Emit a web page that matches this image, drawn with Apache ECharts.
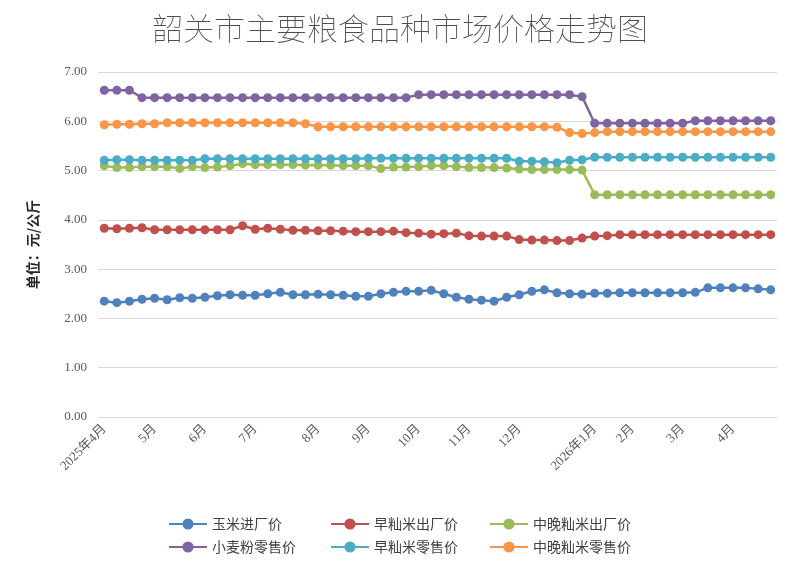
<!DOCTYPE html>
<html>
<head>
<meta charset="utf-8">
<script src="https://cdn.jsdelivr.net/npm/echarts@6/dist/echarts.min.js"></script>
<style>
    html, body { margin: 0; padding: 0; background: #fff; }
    #chart { width: 800px; height: 585px; }
</style>
</head>
<body>
<div id="chart"></div>
<script>
'use strict';

// weekly points, month label on the first week of each month
var weekLabels = [
    '2025年4月', '', '', '', '5月', '', '', '', '6月', '', '', '', '7月', '', '', '', '', '8月',
    '', '', '', '9月', '', '', '', '10月', '', '', '', '11月', '', '', '', '12月', '', '', '', '', '',
    '2026年1月', '', '', '2月', '', '', '', '3月', '', '', '', '4月', '', '', ''
];

var seriesNames = ['玉米进厂价', '早籼米出厂价', '中晚籼米出厂价', '小麦粉零售价', '早籼米零售价', '中晚籼米零售价'];

var cornPrice = [2.35, 2.32, 2.35, 2.39, 2.41, 2.38, 2.42, 2.41, 2.43, 2.46, 2.48, 2.47, 2.47, 2.50, 2.53, 2.48, 2.48, 2.49,
    2.48, 2.47, 2.45, 2.45, 2.50, 2.53, 2.55, 2.55, 2.57, 2.50, 2.43, 2.39, 2.37, 2.35, 2.43, 2.48, 2.55, 2.58,
    2.52, 2.50, 2.49, 2.51, 2.51, 2.52, 2.52, 2.52, 2.52, 2.52, 2.52, 2.53, 2.62, 2.62, 2.62, 2.62, 2.60, 2.58];

var earlyRiceMill = [3.83, 3.82, 3.83, 3.84, 3.80, 3.80, 3.80, 3.80, 3.80, 3.80, 3.80, 3.88, 3.81, 3.83, 3.81, 3.79, 3.79, 3.78,
    3.78, 3.77, 3.76, 3.76, 3.76, 3.77, 3.74, 3.73, 3.71, 3.72, 3.73, 3.68, 3.67, 3.67, 3.67, 3.60, 3.59, 3.59,
    3.58, 3.58, 3.63, 3.67, 3.68, 3.70, 3.70, 3.70, 3.70, 3.70, 3.70, 3.70, 3.70, 3.70, 3.70, 3.70, 3.70, 3.70];

var lateRiceMill = [5.10, 5.06, 5.06, 5.08, 5.08, 5.08, 5.04, 5.08, 5.06, 5.07, 5.10, 5.14, 5.12, 5.12, 5.12, 5.12, 5.11, 5.11,
    5.11, 5.10, 5.10, 5.10, 5.04, 5.07, 5.07, 5.08, 5.10, 5.10, 5.08, 5.06, 5.06, 5.06, 5.05, 5.03, 5.02, 5.02,
    5.02, 5.02, 5.01, 4.51, 4.51, 4.51, 4.51, 4.51, 4.51, 4.51, 4.51, 4.51, 4.51, 4.51, 4.51, 4.51, 4.51, 4.51];

var flourRetail = [6.63, 6.63, 6.63, 6.48, 6.48, 6.48, 6.48, 6.48, 6.48, 6.48, 6.48, 6.48, 6.48, 6.48, 6.48, 6.48, 6.48, 6.48,
    6.48, 6.48, 6.48, 6.48, 6.48, 6.48, 6.48, 6.54, 6.54, 6.54, 6.54, 6.54, 6.54, 6.54, 6.54, 6.54, 6.54, 6.54,
    6.54, 6.54, 6.50, 5.96, 5.96, 5.96, 5.96, 5.96, 5.96, 5.96, 5.96, 6.01, 6.01, 6.01, 6.01, 6.01, 6.01, 6.01];

var earlyRiceRetail = [5.21, 5.22, 5.22, 5.21, 5.21, 5.21, 5.21, 5.21, 5.24, 5.24, 5.24, 5.24, 5.24, 5.24, 5.24, 5.24, 5.24, 5.24,
    5.24, 5.24, 5.24, 5.25, 5.25, 5.25, 5.25, 5.25, 5.25, 5.25, 5.25, 5.25, 5.25, 5.25, 5.25, 5.19, 5.19, 5.18,
    5.16, 5.21, 5.22, 5.27, 5.27, 5.27, 5.27, 5.27, 5.27, 5.27, 5.27, 5.27, 5.27, 5.27, 5.27, 5.27, 5.27, 5.27];

var lateRiceRetail = [5.93, 5.94, 5.94, 5.95, 5.95, 5.97, 5.97, 5.97, 5.97, 5.97, 5.97, 5.97, 5.97, 5.97, 5.97, 5.97, 5.95, 5.89,
    5.89, 5.89, 5.89, 5.89, 5.89, 5.89, 5.89, 5.89, 5.89, 5.89, 5.89, 5.89, 5.89, 5.89, 5.89, 5.89, 5.89, 5.89,
    5.88, 5.77, 5.75, 5.77, 5.79, 5.79, 5.79, 5.79, 5.79, 5.79, 5.79, 5.79, 5.79, 5.79, 5.79, 5.79, 5.79, 5.79];

var yTicks = { min: 0, max: 7, interval: 1 };

var serifFont = '"Liberation Serif", "Noto Sans CJK SC", serif';
var cjkFont = '"Noto Sans CJK SC", "Liberation Serif", serif';

function floatchart() {
    var myChart = echarts.init(document.getElementById('chart'));

    var values = [cornPrice, earlyRiceMill, lateRiceMill, flourRetail, earlyRiceRetail, lateRiceRetail];

    // one legend per column so the two rows line up like the excel one
    var legendCol = function (names, left) {
        return {
            orient: 'vertical',
            left: left,
            top: 512,
            itemGap: 9,
            itemWidth: 38,
            itemHeight: 14,
            data: names,
            textStyle: { fontFamily: cjkFont, fontSize: 14, color: '#404040' }
        };
    };

    var option = {
        backgroundColor: '#ffffff',
        animation: false,
        color: ['#4F81BD', '#C0504D', '#9BBB59', '#8064A2', '#4BACC6', '#F79646'],
        title: {
            text: '韶关市主要粮食品种市场价格走势图',
            left: 'center',
            top: 8,
            textStyle: {
                fontFamily: cjkFont,
                fontSize: 31,
                fontWeight: 'lighter',
                color: '#4d4d4d'
            }
        },
        legend: [
            legendCol([seriesNames[0], seriesNames[3]], 163),
            legendCol([seriesNames[1], seriesNames[4]], 325),
            legendCol([seriesNames[2], seriesNames[5]], 484)
        ],
        grid: {
            left: 98,
            right: 23,
            top: 72,
            bottom: 168,
            containLabel: false
        },
        xAxis: {
            type: 'category',
            boundaryGap: true,
            data: weekLabels,
            axisLine: { show: false },
            axisTick: { show: false },
            axisLabel: {
                rotate: 45,
                margin: 10,
                interval: function (index) {
                    return weekLabels[index] !== '';
                },
                fontFamily: serifFont,
                fontSize: 13,
                color: '#595959'
            }
        },
        yAxis: {
            type: 'value',
            min: yTicks.min,
            max: yTicks.max,
            interval: yTicks.interval,
            name: '单位：元/公斤',
            nameLocation: 'middle',
            nameRotate: 90,
            nameGap: 58,
            nameTextStyle: {
                fontFamily: cjkFont,
                fontSize: 14,
                fontWeight: 'bold',
                color: '#262626'
            },
            axisLine: { show: false },
            axisTick: { show: false },
            axisLabel: {
                margin: 11,
                formatter: function (v) { return v.toFixed(2); },
                fontFamily: serifFont,
                fontSize: 13,
                color: '#595959'
            },
            splitLine: { lineStyle: { color: '#d9d9d9', width: 1 } }
        },
        series: seriesNames.map(function (name, i) {
            return {
                name: name,
                type: 'line',
                data: values[i],
                symbol: 'circle',
                symbolSize: 9,
                showSymbol: true,
                showAllSymbol: true,
                lineStyle: { width: 2.5 },
                emphasis: { disabled: true }
            };
        })
    };

    myChart.setOption(option);

    window.onresize = function () {
        myChart.resize();
    };
}

floatchart();
</script>
</body>
</html>
